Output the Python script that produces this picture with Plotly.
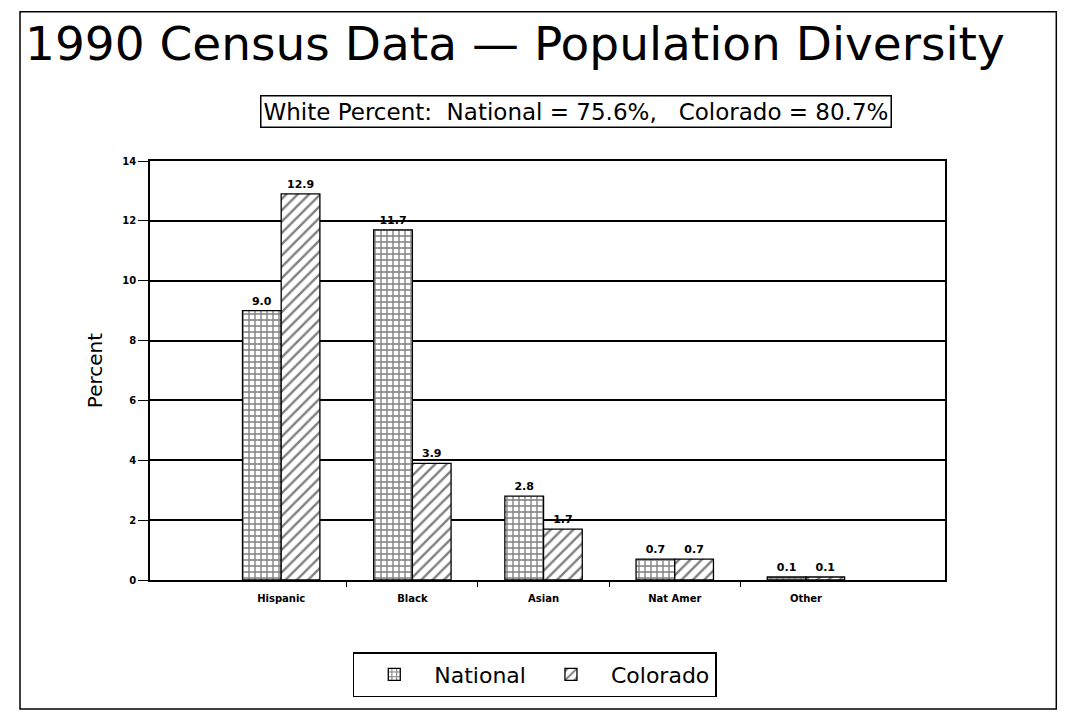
import plotly.graph_objects as go

categories = ["Hispanic", "Black", "Asian", "Nat Amer", "Other"]
national = [9.0, 11.7, 2.8, 0.7, 0.1]
colorado = [12.9, 3.9, 1.7, 0.7, 0.1]
y_ticks = [0, 2, 4, 6, 8, 10, 12, 14]
title_text = "1990 Census Data \u2014 Population Diversity"
subtitle_text = "White Percent:  National = 75.6%,   Colorado = 80.7%"

idx = list(range(len(categories)))
boundaries = [i + 0.5 for i in idx[:-1]]

label_font = dict(family="DejaVu Sans", size=11, color="black", weight="bold")

fig = go.Figure()
fig.add_trace(go.Bar(
    x=idx, y=national, name="National",
    marker=dict(color="white", line=dict(color="black", width=1.3),
                pattern=dict(shape="+", fgcolor="black", bgcolor="white", size=6, solidity=0.4)),
    texttemplate="%{y:.1f}", textposition="outside", textfont=label_font,
    cliponaxis=False,
))
fig.add_trace(go.Bar(
    x=idx, y=colorado, name="Colorado",
    marker=dict(color="white", line=dict(color="black", width=1.3),
                pattern=dict(shape="/", fgcolor="black", bgcolor="white", size=8, solidity=0.3)),
    texttemplate="%{y:.1f}", textposition="outside", textfont=label_font,
    cliponaxis=False,
))
# invisible trace to carry boundary tick axis
fig.add_trace(go.Scatter(x=boundaries, y=[0] * len(boundaries), xaxis="x2", mode="markers",
                         marker=dict(opacity=0), showlegend=False, hoverinfo="skip"))

xr = [-1.0, 5.06]
fig.update_layout(
    width=1053, height=702,
    margin=dict(l=142, r=116, t=153, b=130),
    paper_bgcolor="white", plot_bgcolor="white",
    font=dict(family="DejaVu Sans", color="black"),
    barmode="group", bargap=0.41, bargroupgap=0,
    xaxis=dict(range=xr, tickvals=idx, ticktext=categories, ticks="",
               showgrid=False, zeroline=False, showline=True, mirror=True,
               linecolor="black", linewidth=1.6,
               tickfont=dict(size=10, family="DejaVu Sans", weight="bold"), ticklabelstandoff=8),
    xaxis2=dict(range=xr, overlaying="x", anchor="y", side="bottom", tickvals=boundaries,
                ticks="outside", ticklen=6, tickcolor="black", tickwidth=1.2,
                showticklabels=False, showgrid=False, zeroline=False, showline=False),
    yaxis=dict(range=[0, 14], tickvals=y_ticks, ticks="outside", ticklen=10,
               tickcolor="black", tickwidth=1.2,
               showgrid=True, gridcolor="black", gridwidth=1.6,
               zeroline=False, showline=True, mirror=True, linecolor="black", linewidth=1.6,
               tickfont=dict(size=10, family="DejaVu Sans", weight="bold"),
               title=dict(text="Percent", font=dict(size=20), standoff=14)),
    legend=dict(orientation="h", x=0.484, y=-0.172, xanchor="center", yanchor="top",
                bordercolor="black", borderwidth=1.5, bgcolor="white",
                font=dict(size=22), itemwidth=70),
    showlegend=True,
)
fig.add_annotation(text=title_text, xref="paper", yref="paper", x=0.459, y=1.28,
                   showarrow=False, font=dict(size=47, family="DejaVu Sans"),
                   xanchor="center", yanchor="middle")
fig.add_annotation(text=subtitle_text, xref="paper", yref="paper", x=0.536, y=1.117,
                   showarrow=False, font=dict(size=23, family="DejaVu Sans"),
                   xanchor="center", yanchor="middle", bordercolor="black", borderwidth=1.5,
                   borderpad=2, bgcolor="white")
fig.add_shape(type="rect", xref="paper", yref="paper", x0=-0.1635, x1=1.14, y0=-0.308, y1=1.356,
              line=dict(color="black", width=1.5))
fig.write_html("out.html")
